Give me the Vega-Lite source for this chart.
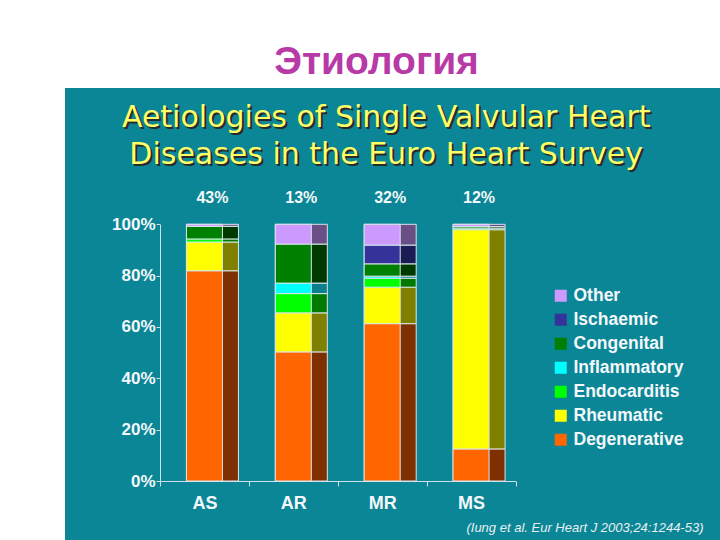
{
  "$schema": "https://vega.github.io/schema/vega-lite/v6.json",
  "width": 655,
  "height": 452,
  "autosize": {"type": "none"},
  "padding": {"left": 65, "top": 88, "right": 0, "bottom": 0},
  "background": "white",
  "title": {
    "text": "Этиология",
    "font": "Liberation Sans",
    "fontSize": 39,
    "fontWeight": "bold",
    "color": "#b83aa6",
    "anchor": "middle",
    "dx": -16,
    "offset": -25,
    "baseline": "alphabetic"
  },
  "config": {
    "view": {"fill": "#0a8696", "stroke": null},
    "font": "Liberation Sans"
  },
  "datasets": {
    "shares": [
      {"valve": "AS", "etiology": "Degenerative", "rank": 1, "pct": 81.9},
      {"valve": "AS", "etiology": "Rheumatic", "rank": 2, "pct": 11.2},
      {"valve": "AS", "etiology": "Endocarditis", "rank": 3, "pct": 1.2},
      {"valve": "AS", "etiology": "Congenital", "rank": 5, "pct": 4.9},
      {"valve": "AS", "etiology": "Other", "rank": 7, "pct": 0.8},
      {"valve": "AR", "etiology": "Degenerative", "rank": 1, "pct": 50.3},
      {"valve": "AR", "etiology": "Rheumatic", "rank": 2, "pct": 15.2},
      {"valve": "AR", "etiology": "Endocarditis", "rank": 3, "pct": 7.5},
      {"valve": "AR", "etiology": "Inflammatory", "rank": 4, "pct": 4.1},
      {"valve": "AR", "etiology": "Congenital", "rank": 5, "pct": 15.2},
      {"valve": "AR", "etiology": "Other", "rank": 7, "pct": 7.7},
      {"valve": "MR", "etiology": "Degenerative", "rank": 1, "pct": 61.3},
      {"valve": "MR", "etiology": "Rheumatic", "rank": 2, "pct": 14.2},
      {"valve": "MR", "etiology": "Endocarditis", "rank": 3, "pct": 3.5},
      {"valve": "MR", "etiology": "Inflammatory", "rank": 4, "pct": 0.8},
      {"valve": "MR", "etiology": "Congenital", "rank": 5, "pct": 4.8},
      {"valve": "MR", "etiology": "Ischaemic", "rank": 6, "pct": 7.3},
      {"valve": "MR", "etiology": "Other", "rank": 7, "pct": 8.1},
      {"valve": "MS", "etiology": "Degenerative", "rank": 1, "pct": 12.5},
      {"valve": "MS", "etiology": "Rheumatic", "rank": 2, "pct": 85.4},
      {"valve": "MS", "etiology": "Endocarditis", "rank": 3, "pct": 0.6},
      {"valve": "MS", "etiology": "Congenital", "rank": 5, "pct": 0.6},
      {"valve": "MS", "etiology": "Other", "rank": 7, "pct": 0.9}
    ],
    "totals": [
      {"valve": "AS", "share": "43%"},
      {"valve": "AR", "share": "13%"},
      {"valve": "MR", "share": "32%"},
      {"valve": "MS", "share": "12%"}
    ],
    "heading": [
      {"valve": "MR", "text": "Aetiologies of Single Valvular Heart\nDiseases in the Euro Heart Survey"}
    ]
  },
  "encoding": {
    "x": {
      "field": "valve",
      "type": "nominal",
      "sort": ["AS", "AR", "MR", "MS"],
      "scale": {"domain": ["AS", "AR", "MR", "MS"], "range": [95, 450.5], "paddingInner": 0, "paddingOuter": 0},
      "axis": {
        "orient": "bottom",
        "offset": -59,
        "tickBand": "extent",
        "domainColor": "#d0e0e6",
        "tickColor": "#d0e0e6",
        "tickSize": 5,
        "labelAngle": 0,
        "labelFontSize": 18,
        "labelFontWeight": "bold",
        "labelColor": "#f4f8fa",
        "labelPadding": 8,
        "title": "(Iung et al. Eur Heart J 2003;24:1244-53)",
        "titleFontStyle": "italic",
        "titleFontWeight": "normal",
        "titleFontSize": 13,
        "titleColor": "#e8f0f2",
        "titleX": 638,
        "titleY": 46,
        "titleAlign": "right",
        "titleBaseline": "middle",
        "titleAnchor": null
      }
    }
  },
  "layer": [
    {
      "data": {"name": "shares"},
      "mark": {"type": "bar", "width": 52, "xOffset": 8, "stroke": "#d8e6ea", "strokeWidth": 1},
      "encoding": {
        "y": {
          "field": "pct",
          "type": "quantitative",
          "stack": "zero",
          "scale": {"domain": [0, 100], "range": [393, 136.3], "nice": false},
          "axis": {
            "orient": "left",
            "offset": -95,
            "values": [0, 20, 40, 60, 80, 100],
            "labelExpr": "datum.value + '%'",
            "grid": false,
            "domainColor": "#d0e0e6",
            "tickColor": "#d0e0e6",
            "tickSize": 4,
            "labelFontSize": 17,
            "labelFontWeight": "bold",
            "labelColor": "#f4f8fa",
            "labelPadding": 1,
            "title": null
          }
        },
        "order": {"field": "rank", "type": "quantitative"},
        "color": {
          "field": "etiology",
          "type": "nominal",
          "scale": {
            "domain": ["Other", "Ischaemic", "Congenital", "Inflammatory", "Endocarditis", "Rheumatic", "Degenerative"],
            "range": ["#6a4f86", "#1c1c55", "#003a00", "#0b7f8c", "#007a00", "#808000", "#7f3000"]
          },
          "legend": null
        }
      }
    },
    {
      "data": {"name": "shares"},
      "mark": {"type": "bar", "width": 36, "stroke": "#d8e6ea", "strokeWidth": 1},
      "encoding": {
        "y": {"field": "pct", "type": "quantitative", "stack": "zero"},
        "order": {"field": "rank", "type": "quantitative"},
        "color": {
          "field": "etiology",
          "type": "nominal",
          "scale": {
            "domain": ["Other", "Ischaemic", "Congenital", "Inflammatory", "Endocarditis", "Rheumatic", "Degenerative"],
            "range": ["#cc99ff", "#333399", "#008000", "#00ffff", "#00ff00", "#ffff00", "#ff6600"]
          },
          "legend": {
            "orient": "none",
            "legendX": 487,
            "legendY": 199,
            "title": null,
            "symbolType": "square",
            "symbolSize": 144,
            "symbolStrokeWidth": 0,
            "symbolOpacity": 1,
            "labelFontSize": 17.5,
            "labelFontWeight": "bold",
            "labelColor": "#f4f8fa",
            "labelOffset": 4,
            "rowPadding": 5
          }
        }
      }
    },
    {
      "data": {"name": "totals"},
      "mark": {"type": "text", "dx": 8, "fontSize": 16, "fontWeight": "bold", "color": "#f4f8fa", "baseline": "middle"},
      "encoding": {
        "y": {"datum": 110.2, "type": "quantitative"},
        "text": {"field": "share"}
      }
    },
    {
      "data": {"name": "heading"},
      "mark": {"type": "text", "dx": 6, "dy": 2, "font": "DejaVu Sans", "fontSize": 30, "lineBreak": "\n", "lineHeight": 37, "color": "#2a2a2a", "baseline": "middle"},
      "encoding": {
        "y": {"datum": 141.4, "type": "quantitative"},
        "text": {"field": "text"}
      }
    },
    {
      "data": {"name": "heading"},
      "mark": {"type": "text", "dx": 4, "font": "DejaVu Sans", "fontSize": 30, "lineBreak": "\n", "lineHeight": 37, "color": "#ffff66", "baseline": "middle"},
      "encoding": {
        "y": {"datum": 141.4, "type": "quantitative"},
        "text": {"field": "text"}
      }
    }
  ],
  "resolve": {"scale": {"color": "independent"}}
}
